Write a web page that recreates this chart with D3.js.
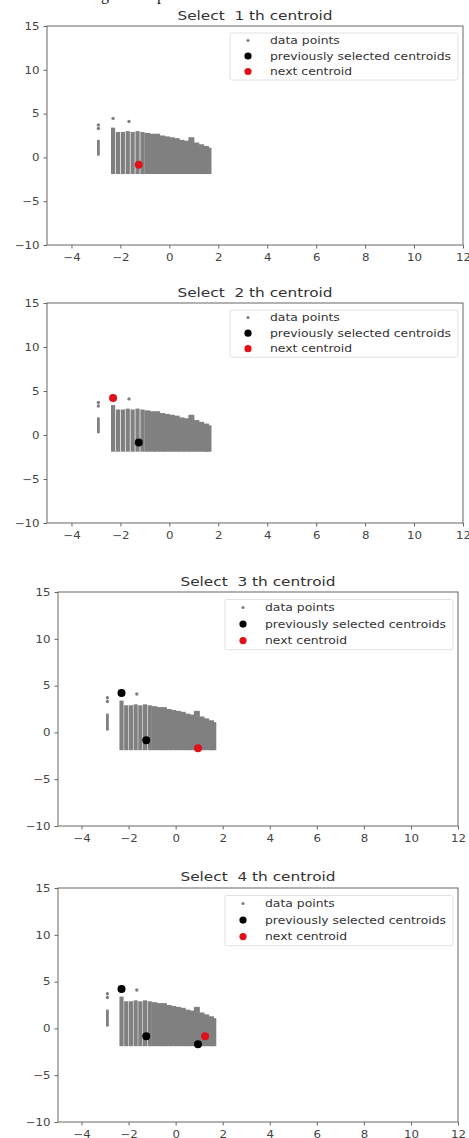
<!DOCTYPE html>
<html>
<head>
  <meta charset="utf-8">
  <title>k-means++ centroid selection</title>
  <script src="https://d3js.org/d3.v7.min.js" charset="utf-8"></script>
  <style type="text/css">
    body { margin: 0; background: #fff; }
    text { font-family: "DejaVu Sans", sans-serif; fill: #333; }
    .title { font-size: 13px; white-space: pre; }
    .tick text { font-size: 10px; fill: #444; }
    .legend text { font-size: 10.5px; }
  </style>
</head>
<body>
  <svg id="chart"></svg>
  <script type="text/javascript">
    const W = 469, H = 1138;
    const SX = 1.18; // the source picture is stretched sideways

    // axis ticks
    const xTicks = [-4, -2, 0, 2, 4, 6, 8, 10, 12];
    const yTicks = [-10, -5, 0, 5, 10, 15];

    // dense point cloud, read as vertical columns (x, bottom, top)
    const colX      = [-2.9, -2.3, -2.1, -1.9, -1.7, -1.5, -1.3, -1.1, -0.9, -0.7, -0.5, -0.3, -0.1, 0.1, 0.3, 0.5, 0.7, 0.9, 1.1, 1.3, 1.5, 1.6];
    const colBottom = [ 0.2, -1.9, -1.9, -1.9, -1.9, -1.9, -1.9, -1.9, -1.9, -1.9, -1.9, -1.9, -1.9, -1.9, -1.9, -1.9, -1.9, -1.9, -1.9, -1.9, -1.9, -1.9];
    const colTop    = [ 2.0,  3.4,  2.9,  2.9,  3.0,  2.9,  3.0,  2.9,  2.8,  2.7,  2.7,  2.5,  2.4,  2.3,  2.2,  2.0,  1.9,  2.3,  1.7,  1.5,  1.3,  1.1];

    // isolated data points
    const loneX = [-2.9, -2.9, -2.3, -1.65];
    const loneY = [ 3.7,  3.3,  4.45, 4.1];

    // centroids in order of selection
    const centX = [-1.25, -2.3, 0.95, 1.25];
    const centY = [-0.85,  4.2, -1.7, -0.85];

    const titles = ["Select  1 th centroid", "Select  2 th centroid", "Select  3 th centroid", "Select  4 th centroid"];
    const legendLabels = ["data points", "previously selected centroids", "next centroid"];

    // panel frames on the page
    const frames = [
      { left: 47, right: 463, top: 26,  bottom: 245,  titleY: 20 },
      { left: 47, right: 463, top: 303, bottom: 523,  titleY: 297 },
      { left: 58, right: 458, top: 592, bottom: 826,  titleY: 586 },
      { left: 58, right: 458, top: 888, bottom: 1122, titleY: 881 }
    ];

    const svg = d3.select("#chart").attr("width", W).attr("height", H);

    // caption of the page above, cut off: only descenders show
    svg.append("text").attr("x", 101).attr("y", 0)
      .style("font-family", "Liberation Serif, serif").style("font-size", "16px").style("fill", "#111")
      .text("g");
    svg.append("text").attr("x", 157).attr("y", 0)
      .style("font-family", "Liberation Serif, serif").style("font-size", "16px").style("fill", "#111")
      .text("p");

    const minus = d => d < 0 ? "\u2212" + Math.abs(d) : d;

    frames.forEach((f, i) => {
      const x = d3.scaleLinear().domain([-5, 12]).range([f.left, f.right]);
      const y = d3.scaleLinear().domain([-10, 15]).range([f.bottom, f.top]);
      const g = svg.append("g");
      const sy = (f.bottom - f.top) / 219;

      g.append("text").attr("class", "title")
        .attr("transform", `translate(${(f.left + f.right) / 2},${f.titleY}) scale(${SX},1)`)
        .attr("text-anchor", "middle")
        .text(titles[i]);

      // point cloud
      const cols = colX.map((cx, k) => ({ x: cx, b: colBottom[k], t: colTop[k] }));
      g.selectAll(".col").data(cols).enter().append("line")
        .attr("class", "col")
        .attr("x1", d => x(d.x)).attr("x2", d => x(d.x))
        .attr("y1", d => y(d.b)).attr("y2", d => y(d.t))
        .attr("stroke", "#808080")
        .attr("stroke-width", d => d.x < -2.5 ? 2.8 : (d.x < -1.0 ? 4.2 : 6));

      g.selectAll(".lone").data(loneX.map((lx, k) => [lx, loneY[k]])).enter().append("circle")
        .attr("cx", d => x(d[0])).attr("cy", d => y(d[1])).attr("r", 1.7)
        .attr("fill", "#808080");

      // centroids
      const prev = d3.range(i).map(k => [centX[k], centY[k]]);
      g.selectAll(".prev").data(prev).enter().append("circle")
        .attr("cx", d => x(d[0])).attr("cy", d => y(d[1])).attr("r", 4)
        .attr("fill", "#000");
      g.append("circle")
        .attr("cx", x(centX[i])).attr("cy", y(centY[i])).attr("r", 4)
        .attr("fill", "#e0101a");

      // axes
      const xa = g.append("g").attr("transform", `translate(0,${f.bottom})`)
        .call(d3.axisBottom(x).tickValues(xTicks).tickSize(3.5).tickPadding(5).tickFormat(minus));
      const ya = g.append("g").attr("transform", `translate(${f.left},0)`)
        .call(d3.axisLeft(y).tickValues(yTicks).tickSize(3.5).tickPadding(4).tickFormat(minus));
      [xa, ya].forEach(a => {
        a.select(".domain").remove();
        a.selectAll(".tick line").attr("stroke", "#666");
        a.selectAll(".tick text").attr("font-size", null).attr("font-family", null);
      });
      xa.selectAll(".tick text").attr("transform", `scale(${SX},1)`);
      ya.selectAll(".tick text").attr("x", -7.5 / SX).attr("transform", `scale(${SX},1)`);

      g.append("rect")
        .attr("x", f.left).attr("y", f.top)
        .attr("width", f.right - f.left).attr("height", f.bottom - f.top)
        .attr("fill", "none").attr("stroke", "#666").attr("stroke-width", 1);

      // legend
      const lg = g.append("g").attr("class", "legend")
        .attr("transform", `translate(${f.right - 233},${f.top + 7 * sy})`);
      lg.append("rect").attr("width", 228).attr("height", 47 * sy).attr("rx", 2)
        .attr("fill", "#fff").attr("stroke", "#e2e2e2");
      legendLabels.forEach((lab, k) => {
        const ly = (7.5 + k * 15.5) * sy;
        lg.append("circle").attr("cx", 18).attr("cy", ly)
          .attr("r", k === 0 ? 1.6 : 3.6)
          .attr("fill", ["#808080", "#000", "#e0101a"][k]);
        lg.append("text")
          .attr("transform", `translate(40,${ly}) scale(${SX},1)`)
          .attr("dy", "0.35em").text(lab);
      });
    });
  </script>
</body>
</html>
